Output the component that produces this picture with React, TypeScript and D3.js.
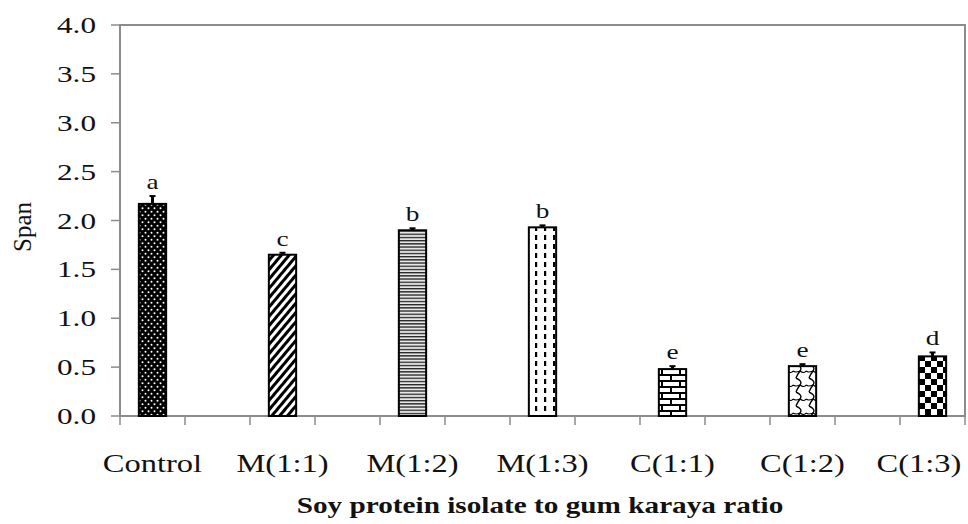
import React from 'react';
import * as d3 from 'd3';

// chart values
const categories = ['Control', 'M(1:1)', 'M(1:2)', 'M(1:3)', 'C(1:1)', 'C(1:2)', 'C(1:3)'];
const spanValues = [2.17, 1.65, 1.9, 1.93, 0.48, 0.51, 0.61];
const spanErrors = [0.08, 0.02, 0.02, 0.02, 0.03, 0.02, 0.04];
const groupLetters = ['a', 'c', 'b', 'b', 'e', 'e', 'd'];
const yTicks = [0, 0.5, 1, 1.5, 2, 2.5, 3, 3.5, 4];
const patternIds = ['dots', 'diag', 'hlines', 'vdash', 'brick', 'wave', 'check'];

const W = 968;
const H = 524;
const margin = { top: 25, right: 3, bottom: 108, left: 120 };

// 13 slots: bars sit on every other slot (Excel-style gaps)
const slots = d3.range(13);

// the source image is stretched horizontally, so the text is too
const STRETCH = 1.3;
const font = 'Times New Roman, Liberation Serif, serif';

const Label: React.FC<{
  x: number;
  y: number;
  size: number;
  anchor?: 'start' | 'middle' | 'end';
  bold?: boolean;
  children: React.ReactNode;
}> = ({ x, y, size, anchor = 'middle', bold, children }) => (
  <text
    transform={`translate(${x},${y}) scale(${STRETCH},1)`}
    textAnchor={anchor}
    fontFamily={font}
    fontSize={size}
    fontWeight={bold ? 'bold' : 'normal'}
    fill="#111"
  >
    {children}
  </text>
);

const App: React.FC = () => {
  const x = d3
    .scaleBand<number>()
    .domain(slots)
    .range([margin.left, W - margin.right]);
  const y = d3
    .scaleLinear()
    .domain([0, 4])
    .range([H - margin.bottom, margin.top]);

  const barW = x.bandwidth() * 0.42;
  const y0 = y(0);
  const axisColor = '#8c8c8c';

  const tickXs = slots.map((s) => x(s)!).concat([x(12)! + x.bandwidth()]);

  return (
    <svg width={W} height={H} style={{ position: 'absolute', left: 0, top: 0, background: '#fff' }}>
      <defs>
        <pattern id="dots" width={6} height={7} patternUnits="userSpaceOnUse">
          <rect width={6} height={7} fill="#000" />
          <circle cx={1.5} cy={1.75} r={1} fill="#fff" />
          <circle cx={4.5} cy={5.25} r={1} fill="#fff" />
        </pattern>
        <pattern id="diag" width={6} height={6} patternUnits="userSpaceOnUse" patternTransform="rotate(40)">
          <rect width={6} height={6} fill="#fff" />
          <rect width={3} height={6} fill="#000" />
        </pattern>
        <pattern id="hlines" width={6} height={3.2} patternUnits="userSpaceOnUse">
          <rect width={6} height={3.2} fill="#e6e6e6" />
          <rect width={6} height={1.3} fill="#222" />
        </pattern>
        <pattern id="vdash" width={9} height={9} patternUnits="userSpaceOnUse" x={2}>
          <rect width={9} height={9} fill="#fff" />
          <rect x={2} y={1} width={2.2} height={5} fill="#000" />
        </pattern>
        <pattern id="brick" width={18} height={12} patternUnits="userSpaceOnUse" y={2}>
          <rect width={18} height={12} fill="#fff" />
          <rect y={0} width={18} height={2} fill="#000" />
          <rect y={6} width={18} height={2} fill="#000" />
          <rect x={4} y={0} width={2} height={6} fill="#000" />
          <rect x={13} y={6} width={2} height={6} fill="#000" />
        </pattern>
        <pattern id="wave" width={13} height={14} patternUnits="userSpaceOnUse">
          <rect width={13} height={14} fill="#fff" />
          <path d="M3,0 Q10,3 7,7 T3,14" fill="none" stroke="#000" strokeWidth={1.4} />
          <path d="M7,7 Q2,9 0,7 M7,7 Q11,10 13,7" fill="none" stroke="#000" strokeWidth={1.2} />
        </pattern>
        <pattern id="check" width={12} height={12} patternUnits="userSpaceOnUse" x={1} y={1}>
          <rect width={12} height={12} fill="#fff" />
          <rect width={6} height={6} fill="#000" />
          <rect x={6} y={6} width={6} height={6} fill="#000" />
        </pattern>
      </defs>

      {/* frame */}
      <rect
        x={margin.left}
        y={margin.top}
        width={W - margin.right - margin.left}
        height={y0 - margin.top}
        fill="none"
        stroke={axisColor}
        strokeWidth={2}
      />

      {/* y axis ticks and labels */}
      {yTicks.map((t) => (
        <g key={t}>
          <line x1={margin.left - 9} x2={margin.left} y1={y(t)} y2={y(t)} stroke={axisColor} strokeWidth={1.5} />
          <Label x={96} y={y(t) + 8} size={24} anchor="end">
            {t.toFixed(1)}
          </Label>
        </g>
      ))}

      {/* x axis ticks */}
      {tickXs.map((tx, i) => (
        <line key={i} x1={tx} x2={tx} y1={y0} y2={y0 + 9} stroke={axisColor} strokeWidth={1.5} />
      ))}

      {/* bars */}
      {categories.map((c, i) => {
        const cx = x(i * 2)! + x.bandwidth() / 2;
        const top = y(spanValues[i]);
        const errTop = y(spanValues[i] + spanErrors[i]);
        return (
          <g key={c}>
            <line x1={cx} x2={cx} y1={top} y2={errTop} stroke="#000" strokeWidth={3} />
            <line x1={cx - 3} x2={cx + 3} y1={errTop} y2={errTop} stroke="#000" strokeWidth={2} />
            <rect
              x={cx - barW / 2}
              y={top}
              width={barW}
              height={y0 - top}
              fill={`url(#${patternIds[i]})`}
              stroke="#000"
              strokeWidth={2}
            />
            <Label x={cx} y={errTop - 7} size={21}>
              {groupLetters[i]}
            </Label>
            {/* last label is pulled in so it stays inside the picture */}
            <Label x={Math.min(cx, 919)} y={y0 + 56} size={25}>
              {c}
            </Label>
          </g>
        );
      })}

      {/* axis titles */}
      <text
        transform={`translate(31,227) rotate(-90)`}
        textAnchor="middle"
        fontFamily={font}
        fontSize={25}
        fill="#111"
      >
        Span
      </text>
      <Label x={540} y={513} size={22.5} bold>
        Soy protein isolate to gum karaya ratio
      </Label>
    </svg>
  );
};

export default App;
